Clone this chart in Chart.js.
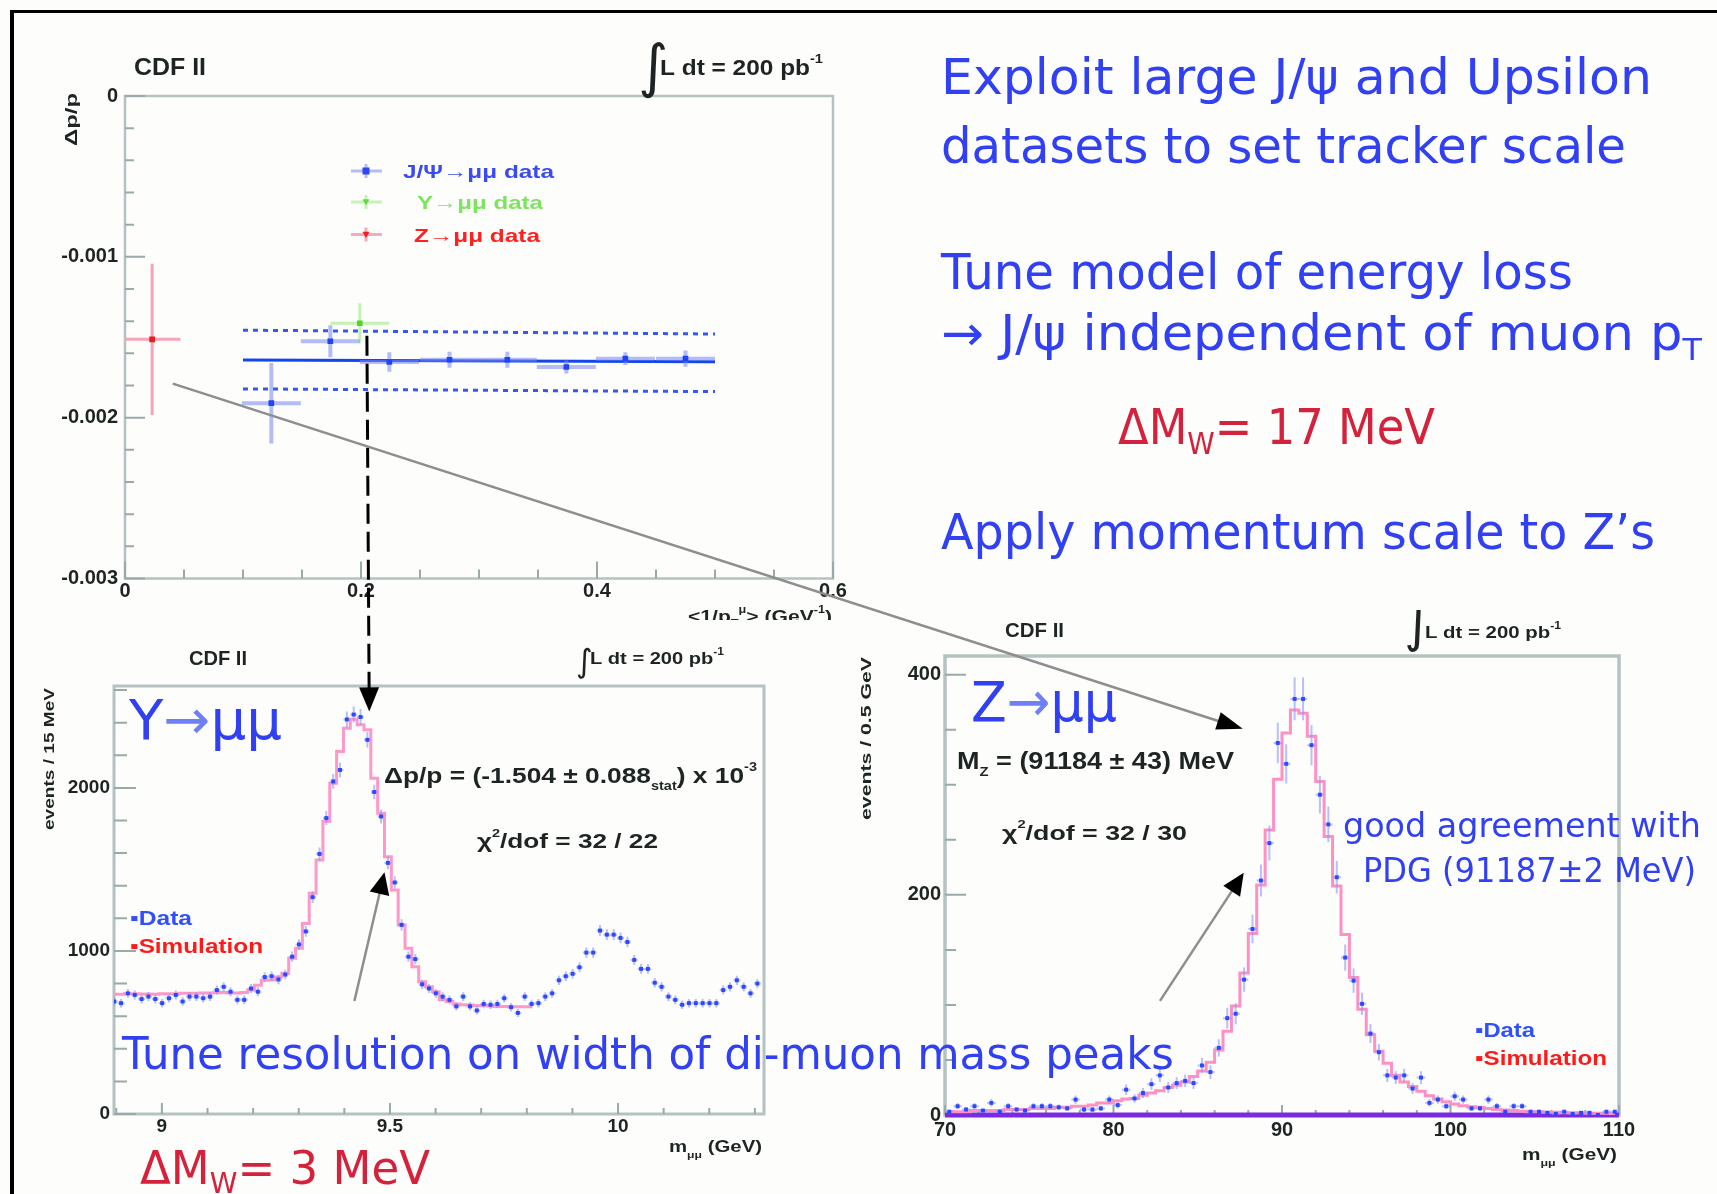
<!DOCTYPE html>
<html>
<head>
<meta charset="utf-8">
<title>CDF II tracker momentum scale</title>
<script src="https://cdn.jsdelivr.net/npm/chart.js@4.4.1/dist/chart.umd.min.js"></script>
<style>
  html, body { margin:0; padding:0; background:#fdfdfb; }
  #slide { position:relative; width:1717px; height:1194px; overflow:hidden; background:#fdfdfb; }
  .rule { position:absolute; background:#000; }
  canvas.plot { position:absolute; z-index:1; }
  #overlay { position:absolute; left:0; top:0; z-index:2; pointer-events:none; }
  .txt { position:absolute; white-space:nowrap; transform-origin:0 0; line-height:1.2; z-index:3;
         font-family:'DejaVu Sans', sans-serif; }
  .sub { font-size:0.62em; position:relative; top:0.32em; }
</style>
</head>
<body>
<div id="slide">
  <div class="rule" style="left:10px;top:10px;width:1707px;height:3px"></div>
  <div class="rule" style="left:10px;top:10px;width:4px;height:1184px"></div>
  <canvas id="cScale" class="plot"></canvas>
  <canvas id="cUps" class="plot"></canvas>
  <canvas id="cZ" class="plot"></canvas>
  <canvas id="overlay" width="1717" height="1194"></canvas>
</div>
<script>
// ---------------- momentum scale vs <1/pT> ----------------
const jpsiInvPt    = [0.124, 0.174, 0.224, 0.275, 0.324, 0.374, 0.424, 0.475];
const jpsiDpp      = [-0.00191, -0.001525, -0.001654, -0.00164, -0.00164, -0.001685, -0.001633, -0.001633];
const jpsiErrInvPt = [0.025, 0.025, 0.025, 0.025, 0.025, 0.025, 0.025, 0.025];
const jpsiErrDpp   = [0.00025, 0.0001, 0.00006, 0.00005, 0.00005, 0.00004, 0.00004, 0.00005];
const upsInvPt     = [0.199];
const upsDpp       = [-0.001413];
const upsErrInvPt  = [0.025];
const upsErrDpp    = [0.000125];
const zInvPt       = [0.023];
const zDpp         = [-0.001513];
const zErrInvPt    = [0.024];
const zErrDpp      = [0.00047];
const fitInvPt     = [0.1, 0.5];
const fitDpp       = [-0.001641, -0.001653];
const bandHiDpp    = [-0.001456, -0.00148];
const bandLoDpp    = [-0.001821, -0.001838];

// ---------------- Upsilon -> mu mu mass, 15 MeV bins ----------------
const upsBinLow = 8.888, upsBinWidth = 0.015;
const upsCounts = [
  690, 680, 740, 730, 705, 720, 705, 680, 710, 730,
  690, 720, 720, 710, 720, 760, 780, 750, 700, 700,
  770, 750, 840, 845, 825, 855, 965, 1040, 1120, 1330,
  1595, 1815, 2040, 2110, 2420, 2450, 2435, 2295, 1975, 1825,
  1540, 1420, 1160, 965, 950, 795, 770, 740, 720, 700,
  660, 720, 660, 635, 675, 670, 675, 710, 655, 620,
  720, 675, 680, 720, 740, 820, 845, 860, 900, 990,
  990, 1125, 1100, 1100, 1080, 1055, 945, 890, 890, 805,
  780, 720, 700, 670, 680, 680, 680, 680, 680, 760,
  780, 820, 780, 740, 800
];
const upsSimulation = [
  735, 735, 738, 738, 736, 736, 735, 737, 738, 738,
  740, 740, 740, 742, 742, 744, 745, 742, 742, 745,
  760, 790, 820, 822, 840, 863, 955, 1016, 1169, 1354,
  1558, 1795, 2029, 2224, 2366, 2421, 2387, 2356, 2059, 1844,
  1578, 1374, 1159, 1016, 903, 811, 780, 750, 700, 690,
  675, 670, 668, 665, 665, 662, 660, 660, 658, 658,
  658, 658
];

// ---------------- Z -> mu mu mass, 0.5 GeV bins ----------------
const zBinLow = 70, zBinWidth = 0.5;
const zCounts = [
  3, 8, 5, 8, 4, 11, 3, 8, 5, 4,
  8, 8, 8, 7, 6, 14, 5, 5, 6, 14,
  9, 23, 15, 20, 28, 36, 25, 29, 31, 29,
  45, 39, 61, 88, 92, 123, 169, 213, 247, 338,
  319, 378, 378, 336, 291, 264, 216, 143, 122, 101,
  74, 57, 36, 34, 36, 24, 34, 11, 14, 8,
  17, 14, 6, 6, 14, 8, 3, 8, 8, 3,
  3, 2, 1, 3, 1, 2, 2, 0, 3, 3
];
const zSimulation = [
  3, 3, 3, 4, 4, 4, 4, 5, 5, 5,
  6, 6, 6, 7, 7, 8, 8, 9, 11, 11,
  13, 14.5, 15, 18, 20, 22, 25, 27, 30, 35,
  40, 48, 59, 76, 99, 129, 165, 209, 259, 305,
  347, 368, 365, 344, 303, 253, 208, 164, 125, 96,
  73, 58, 47, 36, 30, 26, 21.5, 17.5, 14.5, 12,
  10, 8.5, 7.6, 7, 6, 5, 4.5, 4, 3.5, 3,
  3, 2.5, 2.5, 2, 2, 2, 1.5, 1.5, 1.5, 1
];
const zBackgroundMass = [70, 110];
const zBackgroundLevel = [0, 0];

// annotation arrows, in data coordinates of the panels they join
const dashedFrom = [0.205, -0.00149], dashedTo = [9.4546, 2469];
const diagFrom = [0.0405, -0.001788], diagTo = [87.67, 350.8];
const upsArrowFrom = [9.422, 693], upsArrowTo = [9.488, 1482];
const zArrowFrom = [82.76, 103.7], zArrowTo = [87.73, 220];

// ---------------- helpers ----------------
const FONT = "'Liberation Sans', Arial, sans-serif";
const INK = '#1e2424';
const FRAME = '#b4c2c2';
const TICK = '#98aaaa';

Chart.defaults.animation = false;
Chart.defaults.responsive = false;
Chart.defaults.devicePixelRatio = 1;
Chart.defaults.events = [];
Chart.defaults.plugins.legend.display = false;
Chart.defaults.plugins.tooltip.enabled = false;

const pts = (xs, ys) => xs.map((x, i) => ({x, y: ys[i]}));
const centers = (lo, w, n) => Array.from({length: n}, (_, i) => lo + w * (i + 0.5));
const onGrid = (v, step) => Math.abs(v / step - Math.round(v / step)) < 1e-6;

function richText(ctx, segs, x, y, width, size, color, opts = {}) {
  const weight = opts.weight || 'bold', family = opts.family || FONT;
  let total = 0; const ws = [];
  for (const s of segs) {
    ctx.font = `${weight} ${size * (s[1] || 1)}px ${family}`;
    const w = ctx.measureText(s[0]).width; ws.push(w); total += w;
  }
  const k = width ? width / total : 1;
  ctx.save();
  ctx.translate(x, y);
  if (opts.rotate) ctx.rotate(opts.rotate);
  ctx.scale(k, 1);
  ctx.fillStyle = color; ctx.textBaseline = 'alphabetic'; ctx.textAlign = 'left';
  let cx = 0;
  segs.forEach((s, i) => {
    ctx.font = `${weight} ${size * (s[1] || 1)}px ${family}`;
    ctx.fillText(s[0], cx, (s[2] || 0) * size);
    cx += ws[i];
  });
  ctx.restore();
}

// error bars drawn just beneath each dataset's markers
Chart.register({
  id: 'errorBars',
  beforeDatasetDraw(chart, args) {
    const ds = chart.data.datasets[args.index];
    if (!ds.errX && !ds.errY) return;
    const {ctx, chartArea: a, scales: {x, y}} = chart;
    ctx.save();
    ctx.beginPath(); ctx.rect(a.left, a.top, a.right - a.left, a.bottom - a.top); ctx.clip();
    ctx.strokeStyle = ds.errColor; ctx.lineWidth = ds.errWidth || 2;
    ctx.beginPath();
    ds.data.forEach((p, j) => {
      const px = x.getPixelForValue(p.x), py = y.getPixelForValue(p.y);
      if (ds.errX) { const e = ds.errX[j]; ctx.moveTo(x.getPixelForValue(p.x - e), py); ctx.lineTo(x.getPixelForValue(p.x + e), py); }
      if (ds.errY) { const e = ds.errY[j]; ctx.moveTo(px, y.getPixelForValue(p.y - e)); ctx.lineTo(px, y.getPixelForValue(p.y + e)); }
    });
    ctx.stroke();
    ctx.restore();
  }
});

// ROOT-style frame with inward ticks, labels placed from the scales' own tick lists
function frameTicks(spec) {
  return {
    id: 'frameTicks',
    beforeDatasetsDraw(chart) {
      const {ctx, chartArea: a, scales: {x, y}} = chart;
      ctx.save();
      ctx.strokeStyle = FRAME; ctx.lineWidth = spec.frameWidth;
      ctx.strokeRect(a.left, a.top, a.right - a.left, a.bottom - a.top);
      ctx.strokeStyle = TICK; ctx.lineWidth = 2;
      ctx.beginPath();
      for (const t of x.ticks) {
        const p = x.getPixelForValue(t.value);
        const L = onGrid(t.value, spec.xMajor) ? spec.xLen[0] : spec.xLen[1];
        ctx.moveTo(p, a.bottom); ctx.lineTo(p, a.bottom - L);
      }
      for (const t of y.ticks) {
        const p = y.getPixelForValue(t.value);
        const L = onGrid(t.value, spec.yMajor) ? spec.yLen[0] : spec.yLen[1];
        ctx.moveTo(a.left, p); ctx.lineTo(a.left + L, p);
      }
      ctx.stroke();
      ctx.fillStyle = INK;
      ctx.font = `bold ${spec.labelSize}px ${FONT}`;
      ctx.textBaseline = 'middle';
      ctx.textAlign = 'center';
      for (const t of x.ticks) {
        if (!onGrid(t.value, spec.xMajor)) continue;
        ctx.fillText(spec.xLabel(t.value), x.getPixelForValue(t.value), a.bottom + spec.xGap);
      }
      ctx.textAlign = 'right';
      for (const t of y.ticks) {
        if (!onGrid(t.value, spec.yMajor)) continue;
        ctx.fillText(spec.yLabel(t.value), a.left - spec.yGap, y.getPixelForValue(t.value));
      }
      ctx.restore();
    }
  };
}

function notes(draw) {
  return {
    id: 'notes',
    afterDraw(chart) {
      const ctx = chart.ctx;
      ctx.save();
      ctx.translate(-chart.canvas.offsetLeft, -chart.canvas.offsetTop);
      draw(ctx);
      ctx.restore();
    }
  };
}

const YW = 70, XH = 40;
function axis(min, max, step, isY) {
  return {
    type: 'linear', min, max,
    grid: {display: false, drawTicks: false},
    border: {display: false},
    ticks: {display: false, autoSkip: false},
    // ticks on every multiple of the step inside the range
    afterBuildTicks: s => {
      const out = [];
      for (let k = Math.ceil(min / step - 1e-9); k * step <= max + step * 1e-9; k++) {
        out.push({value: +(k * step).toFixed(10)});
      }
      s.ticks = out;
    },
    afterFit: isY
      ? s => { s.width = YW; s.paddingTop = 0; s.paddingBottom = 0; }
      : s => { s.height = XH; s.paddingLeft = 0; s.paddingRight = 0; }
  };
}

function makeChart(id, box, area, config) {
  const cv = document.getElementById(id);
  cv.width = box.width; cv.height = box.height;
  cv.style.left = box.left + 'px'; cv.style.top = box.top + 'px';
  cv.style.width = box.width + 'px'; cv.style.height = box.height + 'px';
  const want = {left: area.left - box.left, top: area.top - box.top,
                right: area.right - box.left, bottom: area.bottom - box.top};
  const pad = {left: want.left - YW, top: want.top, right: box.width - want.right,
               bottom: box.height - want.bottom - XH};
  config.options.layout = {padding: Object.assign({}, pad)};
  const ch = new Chart(cv, config);
  for (let k = 0; k < 3; k++) {
    const a = ch.chartArea;
    pad.left += want.left - a.left; pad.top += want.top - a.top;
    pad.right += a.right - want.right; pad.bottom += a.bottom - want.bottom;
    ch.options.layout.padding = Object.assign({}, pad);
    ch.update('none');
  }
  return ch;
}

function marker(ctx, x, y, kind, color, size) {
  ctx.fillStyle = color;
  if (kind === 'tri') {
    ctx.beginPath(); ctx.moveTo(x - size, y - size * 0.8); ctx.lineTo(x + size, y - size * 0.8); ctx.lineTo(x, y + size); ctx.closePath(); ctx.fill();
  } else {
    ctx.fillRect(x - size, y - size, size * 2, size * 2);
  }
}

// ---------------- panel 1: delta p / p ----------------
const scaleChart = makeChart('cScale',
  {left: 20, top: 20, width: 850, height: 600},
  {left: 125, top: 96, right: 833, bottom: 578.5},
  {
    type: 'scatter',
    data: {datasets: [
      {data: pts(jpsiInvPt, jpsiDpp), pointStyle: 'rect', pointRadius: 4, backgroundColor: '#1f44f5', borderWidth: 0,
       errX: jpsiErrInvPt, errY: jpsiErrDpp, errColor: 'rgba(120,135,245,0.55)', errWidth: 4},
      {data: pts(upsInvPt, upsDpp), pointStyle: 'rect', pointRadius: 4, backgroundColor: '#52d52a', borderWidth: 0,
       errX: upsErrInvPt, errY: upsErrDpp, errColor: '#c4f2b2', errWidth: 3},
      {data: pts(zInvPt, zDpp), pointStyle: 'rect', pointRadius: 4, backgroundColor: '#f01818', borderWidth: 0,
       errX: zErrInvPt, errY: zErrDpp, errColor: '#f6a2b8', errWidth: 3},
      {data: pts(fitInvPt, fitDpp), showLine: true, pointRadius: 0, borderColor: '#1446f0', borderWidth: 3},
      {data: pts(fitInvPt, bandHiDpp), showLine: true, pointRadius: 0, borderColor: '#3558f0', borderWidth: 3, borderDash: [5, 5]},
      {data: pts(fitInvPt, bandLoDpp), showLine: true, pointRadius: 0, borderColor: '#3558f0', borderWidth: 3, borderDash: [5, 5]}
    ]},
    options: {
      scales: {x: axis(0, 0.6, 0.05, false), y: axis(-0.003, 0, 0.0002, true)}
    },
    plugins: [
      frameTicks({frameWidth: 2.5, xMajor: 0.2, yMajor: 0.001, xLen: [17, 9], yLen: [20, 9],
                  labelSize: 20, xGap: 13, yGap: 7,
                  xLabel: v => Math.abs(v) < 1e-9 ? '0' : v.toFixed(1),
                  yLabel: v => Math.abs(v) < 1e-9 ? '0' : v.toFixed(3)}),
      notes(ctx => {
        richText(ctx, [['CDF II']], 134, 75, 72, 24, INK);
        richText(ctx, [['∫']], 638, 86, 0, 58, INK, {weight: 'normal', family: "'DejaVu Sans'"});
        richText(ctx, [['L dt = 200 pb'], ['-1', 0.6, -0.55]], 660, 75, 163, 22, INK);
        richText(ctx, [['Δp/p']], 77, 146, 53, 17, INK, {rotate: -Math.PI / 2});
        richText(ctx, [['<1/p'], ['T', 0.6, 0.3], ['μ', 0.6, -0.55], ['> (GeV'], ['-1', 0.6, -0.55], [')']],
                 688, 622, 144, 17, INK);
        const rows = [
          {y: 171, kind: 'rect', dot: '#2f48f0', bar: '#b6bcf6', text: 'J/Ψ→μμ data', x: 403, w: 151, color: '#3a4cf0'},
          {y: 202, kind: 'tri', dot: '#5fdc3c', bar: '#c6f3b6', text: 'Υ→μμ data', x: 417, w: 126, color: '#7ce45e'},
          {y: 234.5, kind: 'tri', dot: '#ff1a1a', bar: '#f7a9bd', text: 'Z→μμ data', x: 414, w: 126, color: '#ff2020'}
        ];
        for (const r of rows) {
          ctx.strokeStyle = r.bar; ctx.lineWidth = 3;
          ctx.beginPath(); ctx.moveTo(351, r.y); ctx.lineTo(382, r.y); ctx.moveTo(366, r.y - 7); ctx.lineTo(366, r.y + 7); ctx.stroke();
          marker(ctx, 366, r.y, r.kind, r.dot, 3.5);
          richText(ctx, [[r.text]], r.x, r.y + 7, r.w, 19, r.color);
        }
      })
    ]
  });

// ---------------- panel 2: Upsilon mass ----------------
const upsMass = centers(upsBinLow, upsBinWidth, upsCounts.length);
const upsChart = makeChart('cUps',
  {left: 20, top: 640, width: 770, height: 530},
  {left: 114, top: 686, right: 764, bottom: 1114},
  {
    type: 'scatter',
    data: {datasets: [
      {data: pts(upsMass, upsCounts), pointStyle: 'rect', pointRadius: 2.8, backgroundColor: 'rgba(30,60,255,0.9)', borderWidth: 0,
       errX: upsMass.map(() => upsBinWidth / 2), errY: upsCounts.map(Math.sqrt), errColor: 'rgba(140,150,250,0.6)', errWidth: 2},
      {data: pts(upsMass.slice(0, upsSimulation.length), upsSimulation), showLine: true, stepped: 'middle',
       pointRadius: 0, borderColor: '#ff98c8', borderWidth: 3}
    ]},
    options: {
      scales: {x: axis(8.895, 10.32, 0.1, false), y: axis(0, 2625, 200, true)}
    },
    plugins: [
      frameTicks({frameWidth: 3, xMajor: 0.5, yMajor: 1000, xLen: [11, 6], yLen: [22, 13],
                  labelSize: 19, xGap: 13, yGap: 4,
                  xLabel: v => String(Math.round(v * 10) / 10),
                  yLabel: v => String(Math.round(v))}),
      notes(ctx => {
        richText(ctx, [['CDF II']], 189, 665, 58, 20, INK);
        richText(ctx, [['∫']], 576, 672, 0, 32, INK, {weight: 'normal', family: "'DejaVu Sans'"});
        richText(ctx, [['L dt = 200 pb'], ['-1', 0.6, -0.55]], 590, 664, 134, 17, INK);
        richText(ctx, [['Δp/p = (-1.504 ± 0.088'], ['stat', 0.55, 0.3], [') x 10'], ['-3', 0.55, -0.55]],
                 384, 783, 373, 22, INK);
        richText(ctx, [['χ'], ['2', 0.55, -0.55], ['/dof = 32 / 22']], 477, 848, 181, 20, INK);
        richText(ctx, [['events / 15 MeV']], 54, 830, 142, 15, INK, {rotate: -Math.PI / 2});
        richText(ctx, [['m'], ['μμ', 0.6, 0.35], [' (GeV)']], 669, 1152, 93, 16, INK);
        richText(ctx, [['▪Data']], 130, 925, 62, 20, '#3050ff');
        richText(ctx, [['▪Simulation']], 130, 953, 133, 20, '#ff1a1a');
      })
    ]
  });

// ---------------- panel 3: Z mass ----------------
const zMass = centers(zBinLow, zBinWidth, zCounts.length);
const zChart = makeChart('cZ',
  {left: 860, top: 610, width: 850, height: 560},
  {left: 945, top: 656, right: 1619, bottom: 1115},
  {
    type: 'scatter',
    data: {datasets: [
      {data: pts(zMass, zCounts), pointStyle: 'rect', pointRadius: 2.8, backgroundColor: 'rgba(30,60,255,0.9)', borderWidth: 0,
       errX: zMass.map(() => zBinWidth / 2), errY: zCounts.map(Math.sqrt), errColor: 'rgba(140,150,250,0.6)', errWidth: 2},
      {data: pts(zMass, zSimulation), showLine: true, stepped: 'middle', pointRadius: 0, borderColor: '#ff90c2', borderWidth: 3},
      {data: pts(zBackgroundMass, zBackgroundLevel), showLine: true, pointRadius: 0, borderColor: '#7a2ae0', borderWidth: 5, clip: 6}
    ]},
    options: {
      scales: {x: axis(70, 110, 2, false), y: axis(0, 417, 50, true)}
    },
    plugins: [
      frameTicks({frameWidth: 3.5, xMajor: 10, yMajor: 200, xLen: [10, 5], yLen: [21, 11],
                  labelSize: 20, xGap: 15, yGap: 4,
                  xLabel: v => String(Math.round(v)),
                  yLabel: v => String(Math.round(v))}),
      notes(ctx => {
        richText(ctx, [['CDF II']], 1005, 637, 59, 20, INK);
        richText(ctx, [['∫']], 1404, 641, 0, 52, INK, {weight: 'normal', family: "'DejaVu Sans'"});
        richText(ctx, [['L dt = 200 pb'], ['-1', 0.6, -0.55]], 1425, 638, 136, 17, INK);
        richText(ctx, [['M'], ['Z', 0.55, 0.3], [' = (91184 ± 43) MeV']], 957, 769, 277, 24, INK);
        richText(ctx, [['χ'], ['2', 0.55, -0.55], ['/dof = 32 / 30']], 1002, 840, 185, 21, INK);
        richText(ctx, [['events / 0.5 GeV']], 871, 820, 163, 15, INK, {rotate: -Math.PI / 2});
        richText(ctx, [['m'], ['μμ', 0.6, 0.35], [' (GeV)']], 1522, 1160, 95, 16, INK);
        richText(ctx, [['▪Data']], 1475, 1037, 60, 20, '#3050ff');
        richText(ctx, [['▪Simulation']], 1475, 1065, 132, 20, '#ff1a1a');
      })
    ]
  });

// ---------------- arrows joining the panels ----------------
function pagePt(ch, v) {
  return [ch.canvas.offsetLeft + ch.scales.x.getPixelForValue(v[0]),
          ch.canvas.offsetTop + ch.scales.y.getPixelForValue(v[1])];
}
function arrowHead(ctx, from, to, len, half) {
  const dx = to[0] - from[0], dy = to[1] - from[1], d = Math.hypot(dx, dy);
  const ux = dx / d, uy = dy / d;
  const bx = to[0] - ux * len, by = to[1] - uy * len;
  ctx.fillStyle = '#000';
  ctx.beginPath();
  ctx.moveTo(to[0], to[1]);
  ctx.lineTo(bx - uy * half, by + ux * half);
  ctx.lineTo(bx + uy * half, by - ux * half);
  ctx.closePath(); ctx.fill();
}
function arrow(ctx, from, to, color, width, dash, len, half) {
  const dx = to[0] - from[0], dy = to[1] - from[1], d = Math.hypot(dx, dy);
  const end = [to[0] - dx / d * len * 0.8, to[1] - dy / d * len * 0.8];
  ctx.save();
  ctx.strokeStyle = color; ctx.lineWidth = width; ctx.setLineDash(dash);
  ctx.beginPath(); ctx.moveTo(from[0], from[1]); ctx.lineTo(end[0], end[1]); ctx.stroke();
  ctx.restore();
  arrowHead(ctx, from, to, len, half);
}
const ov = document.getElementById('overlay').getContext('2d');
arrow(ov, pagePt(scaleChart, dashedFrom), pagePt(upsChart, dashedTo), '#000', 3, [20, 8], 24, 10);
arrow(ov, pagePt(scaleChart, diagFrom), pagePt(zChart, diagTo), '#8e8e8e', 2.5, [], 26, 9);
arrow(ov, pagePt(upsChart, upsArrowFrom), pagePt(upsChart, upsArrowTo), '#8e8e8e', 2.5, [], 22, 10);
arrow(ov, pagePt(zChart, zArrowFrom), pagePt(zChart, zArrowTo), '#8e8e8e', 2.5, [], 22, 10);

// ---------------- slide text ----------------
const slide = document.getElementById('slide');
const BLUE = '#3040f2', RED = '#d5223c';
function slideText(html, left, base, width, size, color) {
  const d = document.createElement('div');
  d.className = 'txt';
  d.style.left = left + 'px'; d.style.top = '0px';
  d.style.fontSize = size + 'px'; d.style.color = color;
  d.innerHTML = html + '<span style="display:inline-block;width:0;height:0;vertical-align:baseline"></span>';
  slide.appendChild(d);
  const w = d.getBoundingClientRect().width;
  const bl = d.lastElementChild.offsetTop;
  d.style.top = (base - bl) + 'px';
  d.style.transform = `scaleX(${width / w})`;
}
slideText('Exploit large J/ψ and Upsilon', 941, 94, 711, 49, BLUE);
slideText('datasets to set tracker scale', 941, 163, 685, 49, BLUE);
slideText('Tune model of energy loss', 941, 289, 632, 49, BLUE);
slideText('→ J/ψ independent of muon p<span class="sub">T</span>', 941, 350, 761, 49, BLUE);
slideText('ΔM<span class="sub">W</span>= 17 MeV', 1118, 444, 317, 50, RED);
slideText('Apply momentum scale to Z’s', 941, 549, 714, 49, BLUE);
slideText('Tune resolution on width of di-muon mass peaks', 122, 1069, 1052, 45, BLUE);
slideText('ΔM<span class="sub">W</span>= 3 MeV', 140, 1184, 290, 46, RED);
slideText('Υ<span style="color:#6f80f6">→</span>μμ', 129, 739, 153, 56, BLUE);
slideText('Z<span style="color:#6f80f6">→</span>μμ', 971, 721, 146, 56, BLUE);
slideText('good agreement with', 1343, 837, 358, 33, BLUE);
slideText('PDG (91187±2 MeV)', 1363, 882, 333, 33, BLUE);
</script>
</body>
</html>
